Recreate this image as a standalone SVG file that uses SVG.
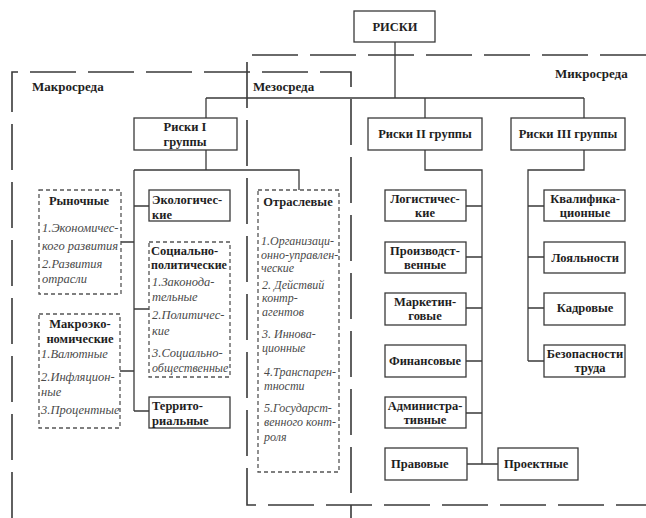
<svg xmlns="http://www.w3.org/2000/svg" width="646" height="518" viewBox="0 0 646 518">
<style>
.b{fill:#fff;stroke:#3a3a3a;stroke-width:1.3}
.d{fill:#fff;stroke:#555;stroke-width:1.3;stroke-dasharray:4 3}
.c{fill:none;stroke:#3a3a3a;stroke-width:1.3}
.z{fill:none;stroke:#3a3a3a;stroke-width:1.6;stroke-dasharray:46 12}
text{font-family:"Liberation Serif","Times New Roman",serif;font-size:12.5px;fill:#1e1e1e}
.t{font-weight:bold}
.m{text-anchor:middle}
.i{font-style:italic;fill:#4a4a4a}
.s{font-size:12px}
.l{font-weight:bold;font-size:13px}
</style>
<rect width="646" height="518" fill="#fff"/>
<g id="borders">
<path class="z" d="M12,518 V72 H351 V518"/>
<path class="z" d="M646,55 H247 V505 H646"/>
<text class="l" x="32" y="91">Макросреда</text>
<text class="l" x="253" y="91">Мезосреда</text>
<text class="l" x="555" y="78">Микросреда</text>
</g>
<g id="connectors">
<path class="c" d="M395,42 V98 M206,98 H584 M206,98 V118 M425,98 V118 M584,98 V118"/>
<path class="c" d="M206,150 V170 M134,170 H299 V190 M134,170 V411 M121,242 H134 M134,206 H149 M134,309 H149 M120,371 H134 M134,411 H149"/>
<path class="c" d="M425,150 V170 H482 V464 M466,206 H482 M466,257 H482 M466,308 H482 M466,361 H482 M466,413 H482 M467,464 H498"/>
<path class="c" d="M584,150 V170 H528 V361 M528,206 H544 M528,257 H544 M528,308 H544 M528,361 H544"/>
</g>
<g id="riski"><rect class="b" x="354" y="11" width="81" height="31"/><text class="t m" x="395" y="31">РИСКИ</text></g>
<g id="g1"><rect class="b" x="134" y="118" width="103" height="32"/><text class="t m" x="185" y="131">Риски I</text><text class="t m" x="185" y="146">группы</text></g>
<g id="g2"><rect class="b" x="368" y="118" width="114" height="32"/><text class="t m" x="425" y="138">Риски II группы</text></g>
<g id="g3"><rect class="b" x="511" y="118" width="114" height="32"/><text class="t m" x="568" y="138">Риски III группы</text></g>
<g id="rynochnye"><rect class="d" x="39" y="190" width="82" height="104"/>
<text class="t m" x="79" y="205">Рыночные</text>
<text class="i" x="42" y="232">1.Экономичес-</text>
<text class="i" x="42" y="250">кого развития</text>
<text class="i" x="42" y="268">2.Развития</text>
<text class="i" x="42" y="283">отрасли</text></g>
<g id="makro"><rect class="d" x="39" y="314" width="81" height="114"/>
<text class="t m" x="80" y="328">Макроэко-</text>
<text class="t m" x="80" y="343">номические</text>
<text class="i" x="41" y="358">1.Валютные</text>
<text class="i" x="41" y="381">2.Инфляцион-</text>
<text class="i" x="41" y="396">ные</text>
<text class="i" x="41" y="414">3.Процентные</text></g>
<g id="eko"><rect class="b" x="149" y="190" width="81" height="31"/>
<text class="t" x="152" y="204">Экологичес-</text>
<text class="t" x="152" y="219">кие</text></g>
<g id="socpol"><rect class="d" x="149" y="242" width="81" height="135"/>
<text class="t" x="151" y="255">Социально-</text>
<text class="t s" x="151" y="269">политические</text>
<text class="i" x="152" y="286">1.Законода-</text>
<text class="i" x="152" y="301">тельные</text>
<text class="i" x="152" y="319">2.Политичес-</text>
<text class="i" x="152" y="335">кие</text>
<text class="i" x="152" y="357">3.Социально-</text>
<text class="i s" x="152" y="372">общественные</text></g>
<g id="terr"><rect class="b" x="149" y="397" width="81" height="31"/>
<text class="t" x="152" y="410">Террито-</text>
<text class="t" x="152" y="425">риальные</text></g>
<g id="otrasl"><rect class="d" x="258" y="190" width="81" height="282"/>
<text class="t m" x="298" y="206">Отраслевые</text>
<text class="i s" x="261" y="245">1.Организаци-</text>
<text class="i s" x="261" y="259">онно-управлен-</text>
<text class="i s" x="261" y="272">ческие</text>
<text class="i s" x="262" y="289">2. Действий</text>
<text class="i s" x="262" y="302">контр-</text>
<text class="i s" x="262" y="316">агентов</text>
<text class="i s" x="262" y="338">3. Иннова-</text>
<text class="i s" x="262" y="352">ционные</text>
<text class="i s" x="264" y="376">4.Транспарен-</text>
<text class="i s" x="264" y="390">тности</text>
<text class="i s" x="264" y="412">5.Государст-</text>
<text class="i s" x="264" y="426">венного конт-</text>
<text class="i s" x="264" y="441">роля</text></g>
<g id="log"><rect class="b" x="385" y="190" width="81" height="31"/><text class="t m" x="425" y="203">Логистичес-</text><text class="t m" x="425" y="217">кие</text></g>
<g id="proizv"><rect class="b" x="385" y="242" width="81" height="31"/><text class="t m" x="425" y="255">Производст-</text><text class="t m" x="425" y="269">венные</text></g>
<g id="mark"><rect class="b" x="385" y="293" width="81" height="32"/><text class="t m" x="425" y="306">Маркетин-</text><text class="t m" x="425" y="320">говые</text></g>
<g id="fin"><rect class="b" x="385" y="345" width="81" height="32"/><text class="t m" x="425" y="365">Финансовые</text></g>
<g id="adm"><rect class="b" x="385" y="397" width="81" height="31"/><text class="t m" x="425" y="410">Администра-</text><text class="t m" x="425" y="424">тивные</text></g>
<g id="prav"><rect class="b" x="385" y="448" width="82" height="32"/><text class="t" x="391" y="468">Правовые</text></g>
<g id="proekt"><rect class="b" x="498" y="448" width="80" height="32"/><text class="t" x="504" y="468">Проектные</text></g>
<g id="kval"><rect class="b" x="544" y="190" width="81" height="31"/><text class="t m" x="585" y="203">Квалифика-</text><text class="t m" x="585" y="217">ционные</text></g>
<g id="loyal"><rect class="b" x="544" y="242" width="81" height="31"/><text class="t m" x="585" y="262">Лояльности</text></g>
<g id="kadr"><rect class="b" x="544" y="293" width="81" height="32"/><text class="t m" x="585" y="312">Кадровые</text></g>
<g id="bezop"><rect class="b" x="544" y="345" width="81" height="32"/><text class="t m" x="585" y="358">Безопасности</text><text class="t m" x="590" y="372">труда</text></g>
</svg>
